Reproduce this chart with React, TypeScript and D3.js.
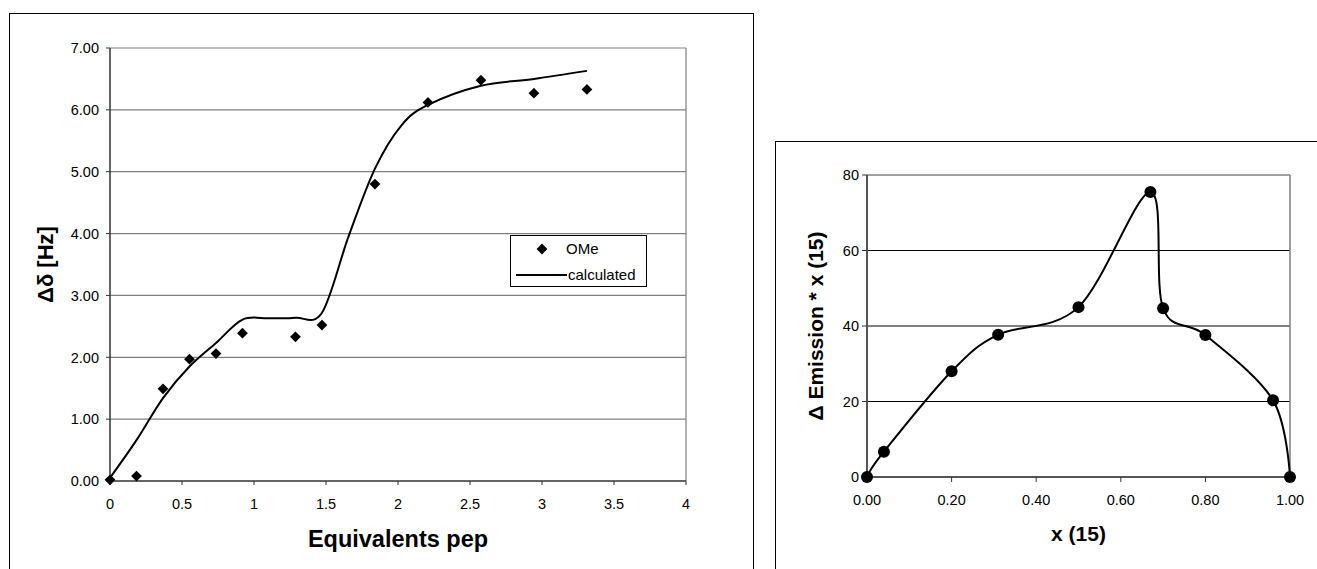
import React from "react";
import * as d3 from "d3";

// ---------- Left chart data ----------
const omeX = [0, 0.184, 0.368, 0.552, 0.736, 0.92, 1.288, 1.472, 1.84, 2.208, 2.576, 2.944, 3.312];
const omeY = [0.02, 0.08, 1.49, 1.97, 2.06, 2.39, 2.33, 2.52, 4.8, 6.12, 6.48, 6.27, 6.33];
const calcX = [0, 0.184, 0.368, 0.552, 0.736, 0.92, 1.104, 1.288, 1.472, 1.656, 1.84, 2.024, 2.208, 2.576, 2.944, 3.312];
const calcY = [0.05, 0.66, 1.34, 1.85, 2.23, 2.61, 2.63, 2.64, 2.72, 3.95, 5.05, 5.75, 6.08, 6.39, 6.5, 6.63];
const leftYTicks = [0, 1, 2, 3, 4, 5, 6, 7];
const leftXTicks = [0, 0.5, 1, 1.5, 2, 2.5, 3, 3.5, 4];
const leftYLabel = "Δδ [Hz]";
const leftXLabel = "Equivalents pep";
const legendLabels = ["OMe", "calculated"];

// ---------- Right chart data ----------
const emX = [0, 0.04, 0.2, 0.31, 0.5, 0.67, 0.7, 0.8, 0.96, 1.0];
const emY = [0, 6.7, 28.0, 37.7, 45.0, 75.5, 44.7, 37.6, 20.3, 0];
const rightYTicks = [0, 20, 40, 60, 80];
const rightXTicks = [0, 0.2, 0.4, 0.6, 0.8, 1.0];
const rightYLabel = "Δ Emission * x (15)";
const rightXLabel = "x (15)";

const FONT = "'Liberation Sans', Arial, Helvetica, sans-serif";

export default function App() {
  // Left scales
  const xL = d3.scaleLinear().domain([0, 4]).range([110, 686]);
  const yL = d3.scaleLinear().domain([0, 7]).range([481, 48]);
  // Right scales
  const xR = d3.scaleLinear().domain([0, 1]).range([867, 1290]);
  const yR = d3.scaleLinear().domain([0, 80]).range([477, 175]);

  const calcPts: [number, number][] = calcX.map((x, i) => [xL(x), yL(calcY[i])]);
  const calcPath = d3.line().curve(d3.curveCardinal.tension(0))(calcPts) || "";
  const emPts: [number, number][] = emX.map((x, i) => [xR(x), yR(emY[i])]);
  const emPath = d3.line().curve(d3.curveCardinal.tension(0))(emPts) || "";
  const diamond = d3.symbol().type(d3.symbolSquare).size(58)() || "";

  return (
    <svg
      width={1317}
      height={569}
      style={{ position: "absolute", left: 0, top: 0, background: "#fff" }}
      fontFamily={FONT}
    >
      <rect x={0} y={0} width={1317} height={569} fill="#fff" />
      {/* ===== Left chart ===== */}
      <rect x={9.5} y={13.5} width={744} height={600} fill="#fff" stroke="#000" strokeWidth={1} />
      {leftYTicks.slice(1).map((t) => (
        <line key={"lg" + t} x1={xL(0)} x2={xL(4)} y1={yL(t)} y2={yL(t)} stroke="#808080" strokeWidth={1.2} />
      ))}
      <line x1={xL(4)} x2={xL(4)} y1={yL(7)} y2={yL(0)} stroke="#808080" strokeWidth={1.2} />
      <line x1={xL(0)} x2={xL(0)} y1={yL(7)} y2={yL(0)} stroke="#333" strokeWidth={1.5} />
      <line x1={xL(0)} x2={xL(4)} y1={yL(0)} y2={yL(0)} stroke="#333" strokeWidth={1.5} />
      {leftYTicks.map((t) => (
        <g key={"ly" + t}>
          <line x1={xL(0) - 4} x2={xL(0)} y1={yL(t)} y2={yL(t)} stroke="#333" strokeWidth={1} />
          <text x={99} y={yL(t)} dy="0.36em" textAnchor="end" fontSize={14.5} fill="#000">
            {t.toFixed(2)}
          </text>
        </g>
      ))}
      {leftXTicks.map((t) => (
        <g key={"lx" + t}>
          <line x1={xL(t)} x2={xL(t)} y1={yL(0)} y2={yL(0) + 4} stroke="#333" strokeWidth={1} />
          <text x={xL(t)} y={509} textAnchor="middle" fontSize={14.5} fill="#000">
            {String(t)}
          </text>
        </g>
      ))}
      <text x={(xL(0) + xL(4)) / 2} y={547} textAnchor="middle" fontSize={23.5} fontWeight="bold">
        {leftXLabel}
      </text>
      <text
        transform={`translate(53, ${(yL(0) + yL(7)) / 2}) rotate(-90)`}
        textAnchor="middle"
        fontSize={22}
        fontWeight="bold"
      >
        {leftYLabel}
      </text>
      <path d={calcPath} fill="none" stroke="#000" strokeWidth={2} />
      {omeX.map((x, i) => (
        <path key={"om" + i} d={diamond} transform={`translate(${xL(x)}, ${yL(omeY[i])}) rotate(45)`} fill="#000" />
      ))}
      {/* legend */}
      <rect x={510.5} y={235.5} width={136} height={51} fill="#fff" stroke="#000" strokeWidth={1} />
      <path d={diamond} transform="translate(542, 249) rotate(45)" fill="#000" />
      <text x={566} y={254} fontSize={15}>{legendLabels[0]}</text>
      <line x1={516} x2={567} y1={275} y2={275} stroke="#000" strokeWidth={2} />
      <text x={568} y={280} fontSize={15}>{legendLabels[1]}</text>

      {/* ===== Right chart ===== */}
      <rect x={775.5} y={141.5} width={600} height={500} fill="#fff" stroke="#000" strokeWidth={1} />
      {rightYTicks.slice(1, -1).map((t) => (
        <line key={"rg" + t} x1={xR(0)} x2={xR(1)} y1={yR(t)} y2={yR(t)} stroke="#000" strokeWidth={1} />
      ))}
      <line x1={xR(0)} x2={xR(1)} y1={yR(80)} y2={yR(80)} stroke="#808080" strokeWidth={1.5} />
      <line x1={xR(1)} x2={xR(1)} y1={yR(80)} y2={yR(0)} stroke="#808080" strokeWidth={1.5} />
      <line x1={xR(0)} x2={xR(0)} y1={yR(80)} y2={yR(0)} stroke="#555" strokeWidth={2} />
      <line x1={xR(0)} x2={xR(1)} y1={yR(0)} y2={yR(0)} stroke="#555" strokeWidth={2} />
      {rightYTicks.map((t) => (
        <g key={"ry" + t}>
          <line x1={xR(0) - 5} x2={xR(0)} y1={yR(t)} y2={yR(t)} stroke="#333" strokeWidth={1} />
          <text x={859} y={yR(t)} dy="0.36em" textAnchor="end" fontSize={14.5} fill="#000">
            {String(t)}
          </text>
        </g>
      ))}
      {rightXTicks.map((t) => (
        <g key={"rx" + t}>
          <line x1={xR(t)} x2={xR(t)} y1={yR(0)} y2={yR(0) + 5} stroke="#333" strokeWidth={1} />
          <text x={xR(t)} y={505} textAnchor="middle" fontSize={14.5} fill="#000">
            {t.toFixed(2)}
          </text>
        </g>
      ))}
      <text x={(xR(0) + xR(1)) / 2} y={541} textAnchor="middle" fontSize={21} fontWeight="bold">
        {rightXLabel}
      </text>
      <text
        transform={`translate(823, ${(yR(0) + yR(80)) / 2}) rotate(-90)`}
        textAnchor="middle"
        fontSize={21}
        fontWeight="bold"
      >
        {rightYLabel}
      </text>
      <path d={emPath} fill="none" stroke="#000" strokeWidth={2} />
      {emX.map((x, i) => (
        <circle key={"em" + i} cx={xR(x)} cy={yR(emY[i])} r={6} fill="#000" />
      ))}
    </svg>
  );
}
